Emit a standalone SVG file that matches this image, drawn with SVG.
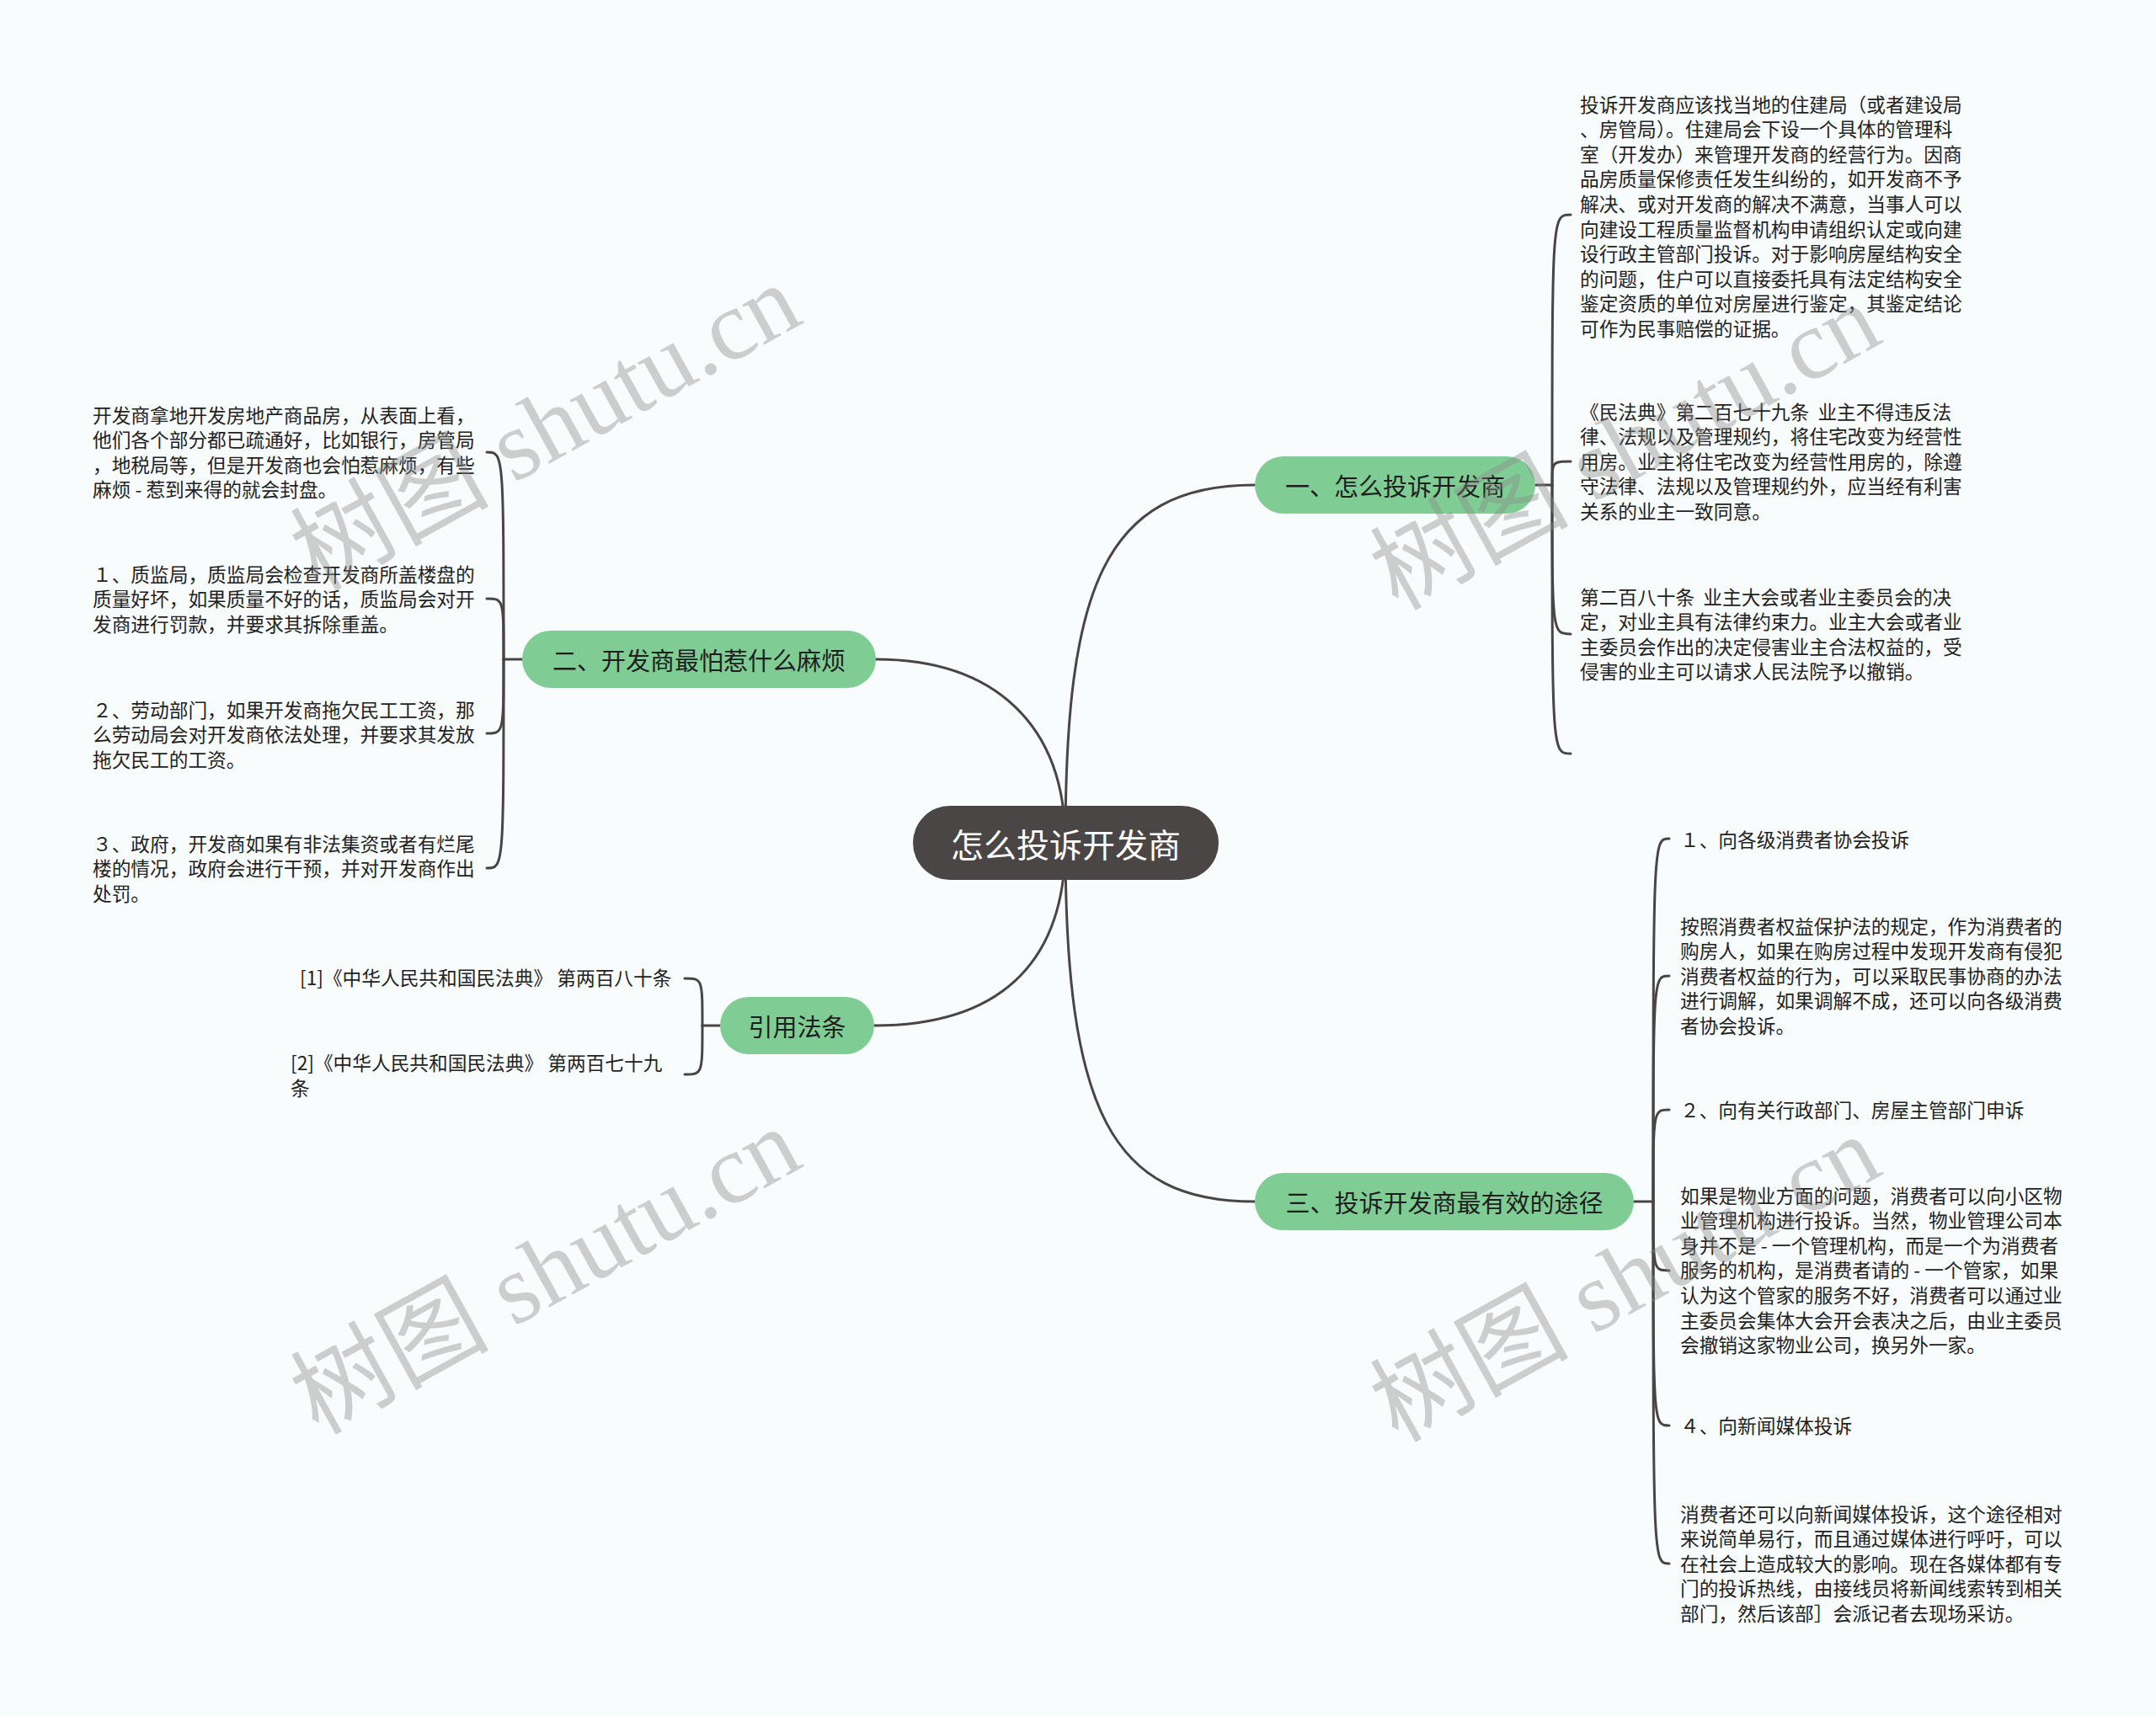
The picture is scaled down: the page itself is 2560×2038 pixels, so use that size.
<svg xmlns="http://www.w3.org/2000/svg" width="2560" height="2038" viewBox="0 0 2560 2038">
<style>
.leaf{font-family:"Noto Sans CJK SC","Noto Sans CJK JP",sans-serif;font-size:22.7px;fill:#222}
.br{font-family:"Noto Sans CJK SC","Noto Sans CJK JP",sans-serif;font-size:29px;fill:#1e1e1e;text-anchor:middle;dominant-baseline:central}
.brbox{fill:#80cc95}
.conn{fill:none;stroke:#4a4545;stroke-width:3;stroke-linecap:round}
.wm{font-family:"Liberation Serif","Noto Sans CJK SC",serif;font-size:118px;fill:#8a8a8a;opacity:0.4;text-anchor:middle;dominant-baseline:central}
</style>
<rect x="0" y="0" width="2560" height="2038" fill="#f9fcfd"/>

<g id="connectors">
  <path class="conn" d="M1265,1001 C1265,700 1310,576 1490,576"/>
  <path class="conn" d="M1265,1001 C1265,860 1180,783 1040,783"/>
  <path class="conn" d="M1265,1001 C1265,1150 1180,1218 1038,1218"/>
  <path class="conn" d="M1265,1001 C1265,1320 1320,1427 1490,1427"/>
  <!-- group 一 -->
  <path class="conn" d="M1823,576 L1843,576"/>
  <path class="conn" d="M1843,576 C1843,255 1843,255 1865,255"/>
  <path class="conn" d="M1843,576 C1843,548 1843,548 1865,548"/>
  <path class="conn" d="M1843,576 C1843,753 1843,753 1865,753"/>
  <path class="conn" d="M1843,576 C1843,895 1843,895 1865,895"/>
  <!-- group 二 -->
  <path class="conn" d="M620,783 L598,783"/>
  <path class="conn" d="M598,783 C598,537 598,537 578,537"/>
  <path class="conn" d="M598,783 C598,711 598,711 578,711"/>
  <path class="conn" d="M598,783 C598,871 598,871 578,871"/>
  <path class="conn" d="M598,783 C598,1031 598,1031 578,1031"/>
  <!-- group 引用法条 -->
  <path class="conn" d="M855,1218 L834,1218"/>
  <path class="conn" d="M834,1218 C834,1162 834,1162 813,1162"/>
  <path class="conn" d="M834,1218 C834,1276 834,1276 813,1276"/>
  <!-- group 三 -->
  <path class="conn" d="M1940,1427 L1963,1427"/>
  <path class="conn" d="M1963,1427 C1963,996 1963,996 1982,996"/>
  <path class="conn" d="M1963,1427 C1963,1159 1963,1159 1982,1159"/>
  <path class="conn" d="M1963,1427 C1963,1318 1963,1318 1982,1318"/>
  <path class="conn" d="M1963,1427 C1963,1509 1963,1509 1982,1509"/>
  <path class="conn" d="M1963,1427 C1963,1693 1963,1693 1982,1693"/>
  <path class="conn" d="M1963,1427 C1963,1857 1963,1857 1982,1857"/>
</g>

<g id="root">
  <rect x="1084" y="957" width="363" height="88" rx="44" fill="#4b4646"/>
  <text x="1265.5" y="1001" font-family="Noto Sans CJK SC, sans-serif" font-size="39" fill="#ffffff" text-anchor="middle" dominant-baseline="central">怎么投诉开发商</text>
</g>

<g id="branch1">
  <rect class="brbox" x="1490" y="542" width="333" height="68" rx="34"/>
  <text class="br" x="1656.5" y="576">一、怎么投诉开发商</text>
</g>
<g id="branch2">
  <rect class="brbox" x="620" y="749" width="420" height="68" rx="34"/>
  <text class="br" x="830" y="783">二、开发商最怕惹什么麻烦</text>
</g>
<g id="branch3">
  <rect class="brbox" x="855" y="1184" width="183" height="68" rx="34"/>
  <text class="br" x="946.5" y="1218">引用法条</text>
</g>
<g id="branch4">
  <rect class="brbox" x="1490" y="1393" width="450" height="68" rx="34"/>
  <text class="br" x="1715" y="1427">三、投诉开发商最有效的途径</text>
</g>

<g id="leaf1-1">
  <text class="leaf">
    <tspan x="1876" y="132.5">投诉开发商应该找当地的住建局（或者建设局</tspan>
    <tspan x="1876" y="162.1">、房管局）。住建局会下设一个具体的管理科</tspan>
    <tspan x="1876" y="191.7">室（开发办）来管理开发商的经营行为。因商</tspan>
    <tspan x="1876" y="221.3">品房质量保修责任发生纠纷的，如开发商不予</tspan>
    <tspan x="1876" y="250.9">解决、或对开发商的解决不满意，当事人可以</tspan>
    <tspan x="1876" y="280.5">向建设工程质量监督机构申请组织认定或向建</tspan>
    <tspan x="1876" y="310.1">设行政主管部门投诉。对于影响房屋结构安全</tspan>
    <tspan x="1876" y="339.7">的问题，住户可以直接委托具有法定结构安全</tspan>
    <tspan x="1876" y="369.3">鉴定资质的单位对房屋进行鉴定，其鉴定结论</tspan>
    <tspan x="1876" y="398.9">可作为民事赔偿的证据。</tspan>
  </text>
</g>
<g id="leaf1-2">
  <text class="leaf">
    <tspan x="1876" y="497.5" xml:space="preserve">《民法典》第二百七十九条  业主不得违反法</tspan>
    <tspan x="1876" y="527.1">律、法规以及管理规约，将住宅改变为经营性</tspan>
    <tspan x="1876" y="556.7">用房。业主将住宅改变为经营性用房的，除遵</tspan>
    <tspan x="1876" y="586.3">守法律、法规以及管理规约外，应当经有利害</tspan>
    <tspan x="1876" y="615.9">关系的业主一致同意。</tspan>
  </text>
</g>
<g id="leaf1-3">
  <text class="leaf">
    <tspan x="1876" y="717.5" xml:space="preserve">第二百八十条  业主大会或者业主委员会的决</tspan>
    <tspan x="1876" y="747.1">定，对业主具有法律约束力。业主大会或者业</tspan>
    <tspan x="1876" y="776.7">主委员会作出的决定侵害业主合法权益的，受</tspan>
    <tspan x="1876" y="806.3">侵害的业主可以请求人民法院予以撤销。</tspan>
  </text>
</g>

<g id="leaf2-1">
  <text class="leaf">
    <tspan x="110" y="501.5">开发商拿地开发房地产商品房，从表面上看，</tspan>
    <tspan x="110" y="531.1">他们各个部分都已疏通好，比如银行，房管局</tspan>
    <tspan x="110" y="560.7">，地税局等，但是开发商也会怕惹麻烦，有些</tspan>
    <tspan x="110" y="590.3">麻烦 - 惹到来得的就会封盘。</tspan>
  </text>
</g>
<g id="leaf2-2">
  <text class="leaf">
    <tspan x="110" y="690.5">１、质监局，质监局会检查开发商所盖楼盘的</tspan>
    <tspan x="110" y="720.1">质量好坏，如果质量不好的话，质监局会对开</tspan>
    <tspan x="110" y="749.7">发商进行罚款，并要求其拆除重盖。</tspan>
  </text>
</g>
<g id="leaf2-3">
  <text class="leaf">
    <tspan x="110" y="851.5">２、劳动部门，如果开发商拖欠民工工资，那</tspan>
    <tspan x="110" y="881.1">么劳动局会对开发商依法处理，并要求其发放</tspan>
    <tspan x="110" y="910.7">拖欠民工的工资。</tspan>
  </text>
</g>
<g id="leaf2-4">
  <text class="leaf">
    <tspan x="110" y="1010.5">３、政府，开发商如果有非法集资或者有烂尾</tspan>
    <tspan x="110" y="1040.1">楼的情况，政府会进行干预，并对开发商作出</tspan>
    <tspan x="110" y="1069.7">处罚。</tspan>
  </text>
</g>

<g id="leaf3-1">
  <text class="leaf" x="356" y="1170">[1]《中华人民共和国民法典》 第两百八十条</text>
</g>
<g id="leaf3-2">
  <text class="leaf">
    <tspan x="345" y="1271">[2]《中华人民共和国民法典》 第两百七十九</tspan>
    <tspan x="345" y="1300.6">条</tspan>
  </text>
</g>

<g id="leaf4-1">
  <text class="leaf" x="1995" y="1005.5">１、向各级消费者协会投诉</text>
</g>
<g id="leaf4-2">
  <text class="leaf">
    <tspan x="1995" y="1108.5">按照消费者权益保护法的规定，作为消费者的</tspan>
    <tspan x="1995" y="1138.1">购房人，如果在购房过程中发现开发商有侵犯</tspan>
    <tspan x="1995" y="1167.7">消费者权益的行为，可以采取民事协商的办法</tspan>
    <tspan x="1995" y="1197.3">进行调解，如果调解不成，还可以向各级消费</tspan>
    <tspan x="1995" y="1226.9">者协会投诉。</tspan>
  </text>
</g>
<g id="leaf4-3">
  <text class="leaf" x="1995" y="1326.5">２、向有关行政部门、房屋主管部门申诉</text>
</g>
<g id="leaf4-4">
  <text class="leaf">
    <tspan x="1995" y="1428.5">如果是物业方面的问题，消费者可以向小区物</tspan>
    <tspan x="1995" y="1458.1">业管理机构进行投诉。当然，物业管理公司本</tspan>
    <tspan x="1995" y="1487.7">身并不是 - 一个管理机构，而是一个为消费者</tspan>
    <tspan x="1995" y="1517.3">服务的机构，是消费者请的 - 一个管家，如果</tspan>
    <tspan x="1995" y="1546.9">认为这个管家的服务不好，消费者可以通过业</tspan>
    <tspan x="1995" y="1576.5">主委员会集体大会开会表决之后，由业主委员</tspan>
    <tspan x="1995" y="1606.1">会撤销这家物业公司，换另外一家。</tspan>
  </text>
</g>
<g id="leaf4-5">
  <text class="leaf" x="1995" y="1701.5">４、向新闻媒体投诉</text>
</g>
<g id="leaf4-6">
  <text class="leaf">
    <tspan x="1995" y="1806.5">消费者还可以向新闻媒体投诉，这个途径相对</tspan>
    <tspan x="1995" y="1836.1">来说简单易行，而且通过媒体进行呼吁，可以</tspan>
    <tspan x="1995" y="1865.7">在社会上造成较大的影响。现在各媒体都有专</tspan>
    <tspan x="1995" y="1895.3">门的投诉热线，由接线员将新闻线索转到相关</tspan>
    <tspan x="1995" y="1924.9">部门，然后该部］会派记者去现场采访。</tspan>
  </text>
</g>

<g id="watermark">
  <text class="wm" transform="translate(648,508) rotate(-29)">树图 shutu.cn</text>
  <text class="wm" transform="translate(1930,531) rotate(-29)">树图 shutu.cn</text>
  <text class="wm" transform="translate(648,1510) rotate(-29)">树图 shutu.cn</text>
  <text class="wm" transform="translate(1930,1519) rotate(-29)">树图 shutu.cn</text>
</g>
</svg>
